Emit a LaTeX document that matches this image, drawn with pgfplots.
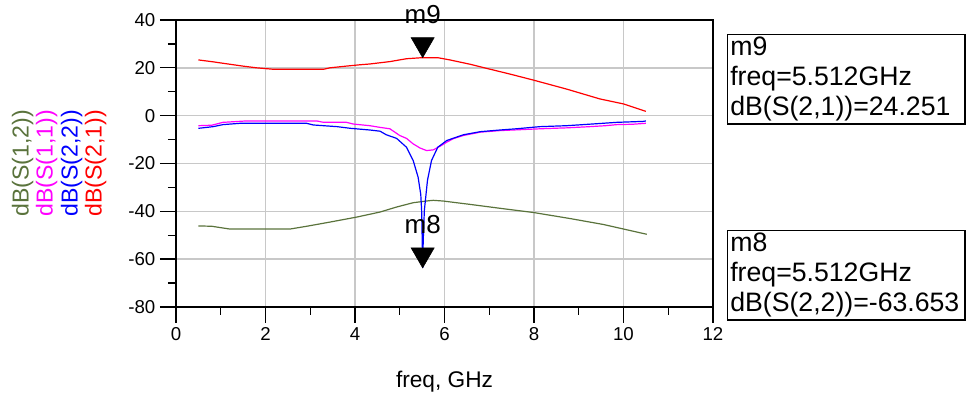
\documentclass[border=0pt]{standalone}
\usepackage{fontspec}
\setmainfont{Liberation Sans}
\usepackage{pgfplots}
\pgfplotsset{compat=1.18}
\definecolor{sgreen}{RGB}{90,115,60}
\definecolor{smag}{RGB}{255,0,255}
\definecolor{sblue}{RGB}{0,0,255}
\definecolor{sred}{RGB}{255,0,0}
\definecolor{gridgray}{RGB}{200,200,200}
\begin{document}
\begin{tikzpicture}
\useasboundingbox (-132pt,-68.25pt) rectangle (600pt,230.25pt);
\begin{axis}[
 scale only axis, width=402.75pt, height=215.25pt,
 at={(0,0)}, anchor=south west,
 xmin=0, xmax=12, ymin=-80, ymax=40,
 xtick={0,2,...,12}, ytick={-80,-60,...,40},
 minor x tick num=1, minor y tick num=1,
 tick align=outside, tick pos=left,
 major tick length=12pt, minor tick length=6pt,
 grid=major, major grid style={gridgray, line width=1.1pt},
 axis line style={line width=1pt},
 every tick/.style={black, line width=1pt},
 tick label style={font=\fontsize{14}{16}\selectfont},
 /pgf/number format/assume math mode=true,
 xlabel={freq, GHz},
 xlabel style={at={(axis description cs:0.5,0)}, anchor=base, yshift=-60.75pt, font=\fontsize{17}{20}\selectfont},
 clip=false,
]
\addplot[sgreen, line width=0.9pt] coordinates {
(0.5,-46.1)(0.8,-46.25)(1.2,-47.4)(2.55,-47.4)(2.92,-46.25)(3.44,-44.5)(4.04,-42.4)(4.56,-40.3)(4.93,-38.2)(5.3,-36.4)(5.64,-35.6)(5.75,-35.4)(5.97,-35.7)(6.57,-37.1)(7.31,-38.9)(7.99,-40.5)(8.8,-43)(9.55,-45.5)(10.52,-49.6)};
\addplot[smag, line width=0.9pt] coordinates {
(0.5,-4.2)(0.8,-4.0)(1.05,-2.8)(1.58,-2.2)(2.5,-2.2)(3.14,-2.2)(3.3,-2.8)(3.81,-2.8)(3.96,-3.5)(4.33,-4.2)(4.56,-4.9)(4.78,-5.5)(5.0,-8.3)(5.15,-9.5)(5.3,-11.8)(5.45,-13.5)(5.6,-14.6)(5.75,-14.3)(5.9,-12.8)(6.05,-11.1)(6.2,-9.6)(6.42,-8.3)(6.8,-6.9)(7.24,-6.25)(7.53,-6.0)(8.13,-5.5)(8.73,-5.1)(9.25,-4.6)(9.6,-4.2)(9.85,-3.75)(10.2,-3.6)(10.5,-3.2)};
\addplot[sblue, line width=0.9pt] coordinates {
(0.5,-5.3)(0.83,-4.6)(1.05,-3.75)(1.43,-3.2)(2.92,-3.2)(3.07,-3.9)(3.6,-4.6)(3.9,-5.3)(4.33,-6.0)(4.56,-6.5)(4.7,-8.0)(4.93,-9.5)(5.15,-13.2)(5.3,-18.75)(5.41,-25.7)(5.47,-33)(5.49,-40)(5.505,-55)(5.512,-63.65)(5.525,-52)(5.55,-39.6)(5.62,-27)(5.71,-18.75)(5.85,-13.2)(6.05,-10.4)(6.42,-8.0)(6.8,-6.7)(7.24,-6.0)(7.6,-5.5)(8.13,-4.6)(8.73,-4.2)(9.3,-3.5)(9.85,-2.8)(10.44,-2.4)(10.5,-2.2)};
\addplot[sred, line width=0.9pt] coordinates {
(0.5,23.3)(0.83,22.5)(1.2,21.5)(1.5,20.7)(1.8,20.0)(2.17,19.4)(2.5,19.4)(3.0,19.4)(3.3,19.4)(3.44,20.0)(3.8,20.7)(4.1,21.25)(4.33,21.6)(4.78,22.6)(5.15,23.8)(5.512,24.25)(5.86,24.2)(6.12,23.3)(6.57,21.5)(7.0,19.5)(7.46,17.4)(7.98,14.9)(8.73,11.1)(9.47,7.0)(10.0,4.9)(10.5,1.8)};
\addplot[only marks, mark=triangle*, mark size=10pt,
 mark options={fill=black, draw=black, yshift=10pt, rotate=180},
 nodes near coords, point meta=explicit symbolic,
 every node near coord/.append style={anchor=base, yshift=15.5pt, font=\fontsize{19.5}{22}\selectfont, text=black}]
 coordinates {(5.512,24.251) [m9] (5.512,-63.653) [m8]};
\node[xshift=-115pt, rotate=90, text=sgreen, font=\fontsize{17.3}{20}\selectfont] at (rel axis cs:0,0.5) {dB(S(1,2))};
\node[xshift=-97pt, rotate=90, text=smag, font=\fontsize{17.3}{20}\selectfont] at (rel axis cs:0,0.5) {dB(S(1,1))};
\node[xshift=-78.25pt, rotate=90, text=sblue, font=\fontsize{17.3}{20}\selectfont] at (rel axis cs:0,0.5) {dB(S(2,2))};
\node[xshift=-60.25pt, rotate=90, text=sred, font=\fontsize{17.3}{20}\selectfont] at (rel axis cs:0,0.5) {dB(S(2,1))};
\end{axis}
\node[draw, line width=1pt, anchor=north west, align=left, inner sep=2pt, text width=174pt, font=\fontsize{20}{22.5}\selectfont] at (413.25pt,204.75pt) {m9\\freq=5.512GHz\\dB(S(2,1))=24.251};
\node[draw, line width=1pt, anchor=north west, align=left, inner sep=2pt, text width=174pt, font=\fontsize{20}{22.5}\selectfont] at (413.25pt,57.75pt) {m8\\freq=5.512GHz\\dB(S(2,2))=-63.653};
\end{tikzpicture}
\end{document}
